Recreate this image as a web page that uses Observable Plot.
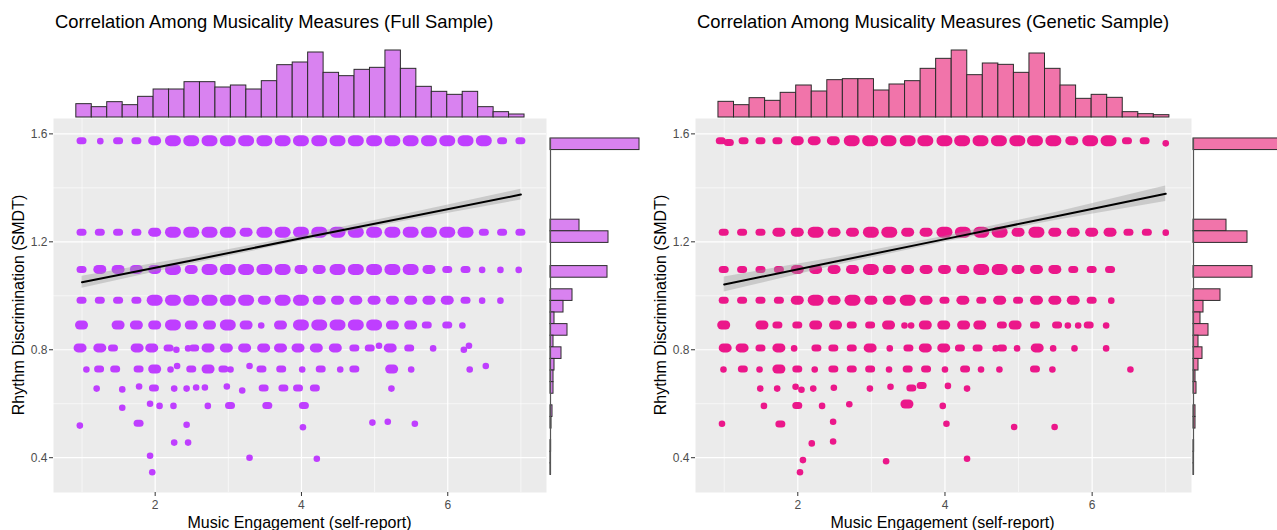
<!DOCTYPE html>
<html><head><meta charset="utf-8">
<script src="https://cdn.jsdelivr.net/npm/d3@7"></script>
<script src="https://cdn.jsdelivr.net/npm/@observablehq/plot@0.6"></script>
<style>
html,body{margin:0;padding:0;background:#fff;}
#root{position:relative;width:1277px;height:530px;overflow:hidden;background:#fff;}
</style></head>
<body><div id="root"></div>
<script>
// ---------------- text ----------------
const titles = ["Correlation Among Musicality Measures (Full Sample)", "Correlation Among Musicality Measures (Genetic Sample)"];
const xAxisTitle = "Music Engagement (self-report)";
const yAxisTitle = "Rhythm Discrimination (SMDT)";

// ---------------- axes ----------------
const xTicks = [2, 4, 6];
const xMinor = [1, 3, 5, 7];
const yTicks = [0.4, 0.8, 1.2, 1.6];
const yMinor = [0.6, 1.0, 1.4];
const xDomain = [0.61, 7.35];
const yDomain = [0.271, 1.657];

// rhythm-score levels (rows of jittered points)
const rowLevels = [1.573, 1.234, 1.096, 0.982, 0.890, 0.805, 0.727, 0.656, 0.592, 0.525, 0.456, 0.402, 0.346];

// ---------------- Full sample scatter: [x, clusterSize(1 single ... 4 dense), optional y] ----------------
const fullR1 = [[1,2],[1.25,1],[1.5,2],[1.75,2],[2,3],[2.25,4],[2.5,4],[2.75,4],[3,4],[3.25,4],[3.5,4],[3.75,4],[4,4],[4.25,4],[4.5,4],[4.75,4],[5,4],[5.25,4],[5.5,4],[5.75,4],[6,4],[6.25,4],[6.5,4],[6.75,2],[7,2]];
const fullR2 = [[1,2],[1.25,2],[1.5,2],[1.75,2],[2,3],[2.25,4],[2.5,4],[2.75,4],[3,4],[3.25,3],[3.5,4],[3.75,4],[4,4],[4.25,4],[4.5,4],[4.75,4],[5,4],[5.25,4],[5.5,4],[5.75,4],[6,4],[6.25,4],[6.5,2],[6.75,2],[7,2]];
const fullR3 = [[1,2],[1.25,3],[1.5,3],[1.75,3],[2,3],[2.25,4],[2.5,3],[2.75,4],[3,4],[3.25,4],[3.5,4],[3.75,4],[4,3],[4.25,3],[4.5,4],[4.75,4],[5,4],[5.25,4],[5.5,4],[5.75,3],[6,2],[6.25,2],[6.47,1],[6.72,1],[6.97,1]];
const fullR4 = [[1,2],[1.25,2],[1.5,2],[1.75,2],[2,4],[2.25,4],[2.5,4],[2.75,4],[3,4],[3.25,4],[3.5,3],[3.75,4],[4,4],[4.25,3],[4.5,3],[4.75,3],[5,3],[5.25,3],[5.5,3],[5.75,3],[6,3],[6.25,2],[6.47,1],[6.72,1]];
const fullR5 = [[1,3],[1.5,3],[1.75,3],[2,3],[2.25,4],[2.5,3],[2.75,3],[3,4],[3.25,3],[3.45,1],[3.72,3],[4,4],[4.25,4],[4.5,4],[4.75,4],[5,4],[5.25,3],[5.5,3],[5.72,2],[6,2],[6.2,1]];
const fullR6 = [[0.98,3],[1.25,3],[1.43,2],[1.76,3],[1.96,3],[2.19,2],[2.29,1,0.80],[2.45,1],[2.54,2],[2.73,3],[2.98,3],[3.23,3],[3.49,3],[3.72,3],[3.96,3],[4.21,3],[4.47,3],[4.73,2],[4.94,2],[5.06,1,0.815],[5.22,3],[5.48,2],[5.80,1],[6.22,1,0.80],[6.29,1,0.815]];
const fullR7 = [[1.06,1],[1.24,2],[1.46,2],[1.78,2],[2.0,3],[2.21,1],[2.30,1,0.74],[2.5,2],[2.73,3],[2.94,2],[3.03,1],[3.29,1,0.74],[3.46,2],[3.73,2],[4.01,1],[4.27,2],[4.53,1],[4.73,2],[5.24,3],[5.50,1],[6.30,1],[6.52,1,0.74]];
const fullR8 = [[1.20,1],[1.55,1,0.653],[1.78,1,0.664],[1.99,2],[2.26,1],[2.43,1],[2.56,1,0.66],[2.68,1,0.66],[2.98,1,0.664],[3.19,1,0.649],[3.49,2],[3.76,2],[3.96,2],[4.19,2],[5.23,1]];
const fullR9 = [[1.55,1,0.585],[1.93,1,0.60],[2.06,1],[2.25,1],[2.72,1],[3.03,2],[3.54,2],[4.04,2]];
const fullR10 = [[0.97,1,0.519],[1.78,2,0.526],[2.43,1,0.522],[4.02,1,0.513],[4.97,1,0.530],[5.18,1,0.533],[5.55,1,0.526]];
const fullR11 = [[2.26,1],[2.45,1]];
const fullR12 = [[1.93,1,0.407],[3.29,1,0.400],[4.21,1,0.396]];
const fullR13 = [[1.96,1,0.346]];

// ---------------- Genetic sample scatter ----------------
const geneR1 = [[0.96,2],[1.07,2,1.566],[1.27,2],[1.5,2],[1.73,2],[2,3],[2.23,3],[2.49,3],[2.74,4],[2.99,4],[3.24,4],[3.5,4],[3.74,4],[4,4],[4.24,4],[4.49,4],[4.74,4],[4.99,4],[5.23,4],[5.48,4],[5.73,3],[5.98,4],[6.23,4],[6.48,2],[6.72,2],[7,1,1.565]];
const geneR2 = [[1,2],[1.25,2],[1.5,2],[1.75,3],[2,3],[2.25,4],[2.5,3],[2.75,3],[3,4],[3.25,4],[3.5,3],[3.75,3],[4,4],[4.25,4],[4.5,4],[4.75,4],[5,3],[5.25,4],[5.5,3],[5.75,3],[6,3],[6.25,3],[6.5,2],[6.75,2],[7,1]];
const geneR3 = [[1,2],[1.25,2],[1.5,2],[1.75,2],[2,3],[2.25,3],[2.5,3],[2.75,3],[3,4],[3.25,3],[3.5,3],[3.75,3],[4,3],[4.25,3],[4.5,4],[4.75,4],[5,3],[5.25,3],[5.5,3],[5.75,2],[6,2],[6.25,2]];
const geneR4 = [[1,2],[1.25,2],[1.5,2],[1.75,2],[2,3],[2.25,4],[2.5,3],[2.75,4],[3,3],[3.25,3],[3.5,4],[3.75,3],[4,2],[4.25,3],[4.5,2],[4.75,3],[5,2],[5.25,3],[5.5,3],[5.75,3],[6,2],[6.26,1]];
const geneR5 = [[1,3],[1.52,3],[1.73,2],[2,2],[2.25,3],[2.52,3],[2.74,2],[2.99,2],[3.24,3],[3.45,1],[3.54,1],[3.74,3],[3.99,3],[4.26,3],[4.48,3],[4.78,2],[4.96,3],[5.23,2],[5.53,2],[5.67,1],[5.81,1],[5.96,2],[6.19,1]];
const geneR6 = [[1.02,3],[1.25,3],[1.5,2],[1.75,3],[1.95,1],[2.26,2],[2.49,2],[2.74,2],[2.99,3],[3.25,1],[3.51,2],[3.74,3],[3.99,3],[4.21,2],[4.45,2],[4.69,1],[4.78,2],[4.98,1],[5.26,3],[5.47,1],[5.76,1],[6.19,1]];
const geneR7 = [[0.99,1],[1.26,2],[1.48,1],[1.75,3],[2,2],[2.23,1],[2.49,2],[2.74,2],[2.99,2],[3.24,1],[3.5,2],[3.75,2],[4.0,1],[4.28,2],[4.49,1],[4.74,1],[5.23,2],[5.46,1],[6.52,1]];
const geneR8 = [[1.49,1],[1.72,1],[1.97,1,0.663],[2.05,1,0.652],[2.21,1],[2.49,1,0.659],[2.98,1],[3.26,1,0.663],[3.55,2],[3.69,2,0.666],[4.04,1,0.666],[4.30,1]];
const geneR9 = [[1.54,1],[2.0,2],[2.33,1],[2.70,1,0.598],[3.49,3,0.597],[3.97,1]];
const geneR10 = [[0.97,1,0.526],[1.77,2,0.523],[2.48,1,0.533],[4.02,1,0.526],[4.94,1,0.514],[5.49,1,0.514]];
const geneR11 = [[2.19,1,0.453],[2.48,1,0.460]];
const geneR12 = [[2.07,1,0.391],[3.2,1,0.387],[4.3,1,0.396]];
const geneR13 = [[2.03,1,0.346]];

// ---------------- linear fit with 95% band ----------------
const fitX = [1, 2.5, 4, 5.5, 7];
const fullFitY  = [1.050, 1.131, 1.213, 1.294, 1.375];
const fullFitLo = [1.028, 1.118, 1.203, 1.281, 1.355];
const fullFitHi = [1.072, 1.144, 1.223, 1.307, 1.395];
const geneFitY  = [1.042, 1.126, 1.210, 1.294, 1.378];
const geneFitLo = [1.014, 1.111, 1.199, 1.279, 1.349];
const geneFitHi = [1.070, 1.141, 1.221, 1.309, 1.407];

// ---------------- marginal histograms ----------------
const topBinStart = 0.922, topBinWidth = 0.2113;
const fullTopCounts = [40,31,46,37,62,84,84,106,106,90,96,84,109,157,165,195,134,124,143,149,201,146,92,77,68,77,31,16,9];
const geneTopCounts = [47,37,58,50,74,96,78,112,115,115,81,99,109,146,176,201,127,162,158,134,192,146,96,56,68,59,16,10,7];
const rightBinTop = 1.583, rightBinHeight = 0.043;
const fullRightCounts = [89,0,0,0,0,0,0,29,58,0,0,57,0,22,13,4,17,3,11,4,3,3,0,2,1,0,0.6,0.5,0.4];
const geneRightCounts = [90,0,0,0,0,0,0,33,54,0,0,59,0,27,10,7,15,5,9,5,2,3,0,2,2,0,0.6,0.5,0.4];

// ---------------- build ----------------
const FONT = '"Liberation Sans", Arial, Helvetica, sans-serif';
const root = document.getElementById("root");

const panels = [
  {rows: [fullR1,fullR2,fullR3,fullR4,fullR5,fullR6,fullR7,fullR8,fullR9,fullR10,fullR11,fullR12,fullR13],
   fitY: fullFitY, fitLo: fullFitLo, fitHi: fullFitHi, top: fullTopCounts, right: fullRightCounts,
   color: "#BF3EFF", histFill: "#D982F0", ox: 0, frameW: 493, rightX: 550, titleX: 55, title: titles[0]},
  {rows: [geneR1,geneR2,geneR3,geneR4,geneR5,geneR6,geneR7,geneR8,geneR9,geneR10,geneR11,geneR12,geneR13],
   fitY: geneFitY, fitLo: geneFitLo, fitHi: geneFitHi, top: geneTopCounts, right: geneRightCounts,
   color: "#EB178A", histFill: "#F174AA", ox: 641.5, frameW: 496, rightX: 1193, titleX: 697, title: titles[1]}
];

const ML = 53, MR = 2;
const blob = {2: [10, 7, 3.5], 3: [13, 9, 4.5], 4: [16, 11, 5.5]};

function place(el, left, top) {
  el.style.position = "absolute";
  el.style.left = left + "px";
  el.style.top = top + "px";
  root.appendChild(el);
}

const overlay = d3.create("svg").attr("width", 1277).attr("height", 530)
  .style("font-family", FONT).style("pointer-events", "none");

for (const p of panels) {
  const pts = [];
  p.rows.forEach((row, i) => row.forEach(([x, s, y]) => pts.push({x, s, y: y ?? rowLevels[i]})));
  const fit = fitX.map((x, i) => ({x, y: p.fitY[i], lo: p.fitLo[i], hi: p.fitHi[i]}));
  const svgW = ML + p.frameW + MR;

  const blobMarks = [2, 3, 4].map(s => Plot.rect(pts.filter(d => d.s === s), {
    x1: "x", x2: "x", y1: "y", y2: "y",
    insetLeft: -blob[s][0] / 2, insetRight: -blob[s][0] / 2,
    insetTop: -blob[s][1] / 2, insetBottom: -blob[s][1] / 2,
    rx: blob[s][2], fill: p.color
  }));

  const scatter = Plot.plot({
    width: svgW, height: 412,
    marginLeft: ML, marginRight: MR, marginTop: 0, marginBottom: 38,
    x: {domain: xDomain}, y: {domain: yDomain},
    style: {fontFamily: FONT, fontSize: "12px", color: "#4d4d4d", background: "transparent", overflow: "visible"},
    marks: [
      Plot.frame({fill: "#EBEBEB", stroke: null}),
      Plot.ruleX(xMinor, {stroke: "#fff", strokeWidth: 0.6}),
      Plot.ruleY(yMinor, {stroke: "#fff", strokeWidth: 0.6}),
      Plot.ruleX(xTicks, {stroke: "#fff", strokeWidth: 1.2}),
      Plot.ruleY(yTicks, {stroke: "#fff", strokeWidth: 1.2}),
      Plot.axisX({ticks: xTicks, tickSize: 4, tickPadding: 4, stroke: "#333", fill: "#4d4d4d", fontSize: 12, label: null, tickFormat: d => String(d)}),
      Plot.axisY({ticks: yTicks, tickSize: 4, tickPadding: 2, stroke: "#333", fill: "#4d4d4d", fontSize: 12, label: null, tickFormat: d => d.toFixed(1)}),
      Plot.dot(pts.filter(d => d.s === 1), {x: "x", y: "y", r: 3.3, fill: p.color}),
      ...blobMarks,
      Plot.areaY(fit, {x: "x", y1: "lo", y2: "hi", fill: "#999999", fillOpacity: 0.4}),
      Plot.line(fit, {x: "x", y: "y", stroke: "#000", strokeWidth: 2})
    ]
  });
  place(scatter, p.ox, 118);

  const topBins = p.top.map((c, i) => ({x1: topBinStart + i * topBinWidth, x2: topBinStart + (i + 1) * topBinWidth, c}));
  const topHist = Plot.plot({
    width: svgW, height: 79,
    marginLeft: ML, marginRight: MR, marginTop: 11, marginBottom: 1,
    x: {domain: xDomain, axis: null}, y: {domain: [0, 201], axis: null},
    style: {background: "transparent", overflow: "visible"},
    marks: [
      Plot.rectY(topBins, {x1: "x1", x2: "x2", y1: 0, y2: "c", fill: p.histFill, stroke: "#2b2b2b", strokeWidth: 1})
    ]
  });
  place(topHist, p.ox, 39);

  const rightBins = p.right.map((c, i) => ({y1: rightBinTop - i * rightBinHeight, y2: rightBinTop - (i + 1) * rightBinHeight, c}));
  const rightHist = Plot.plot({
    width: 92, height: 374,
    marginLeft: 1, marginRight: 2, marginTop: 0, marginBottom: 0,
    x: {domain: [0, 89], axis: null}, y: {domain: yDomain, axis: null},
    style: {background: "transparent", overflow: "visible"},
    marks: [
      Plot.rectX(rightBins.filter(d => d.c > 0), {y1: "y1", y2: "y2", x1: 0, x2: "c", fill: p.histFill, stroke: "#2b2b2b", strokeWidth: 1}),
      Plot.ruleX([0], {y1: rightBinTop, y2: rightBinTop - p.right.length * rightBinHeight, stroke: "#555", strokeWidth: 1.2})
    ]
  });
  place(rightHist, p.rightX - 1, 118);

  overlay.append("text").attr("x", p.titleX).attr("y", 28).attr("font-size", 18.4).attr("fill", "#000").text(p.title);
  overlay.append("text").attr("x", p.ox + ML + p.frameW / 2).attr("y", 528).attr("text-anchor", "middle")
    .attr("font-size", 16).attr("fill", "#000").text(xAxisTitle);
  overlay.append("text").attr("transform", `translate(${p.ox + 24},305) rotate(-90)`).attr("text-anchor", "middle")
    .attr("font-size", 16).attr("fill", "#000").text(yAxisTitle);
}
place(overlay.node(), 0, 0);
</script>
</body></html>
